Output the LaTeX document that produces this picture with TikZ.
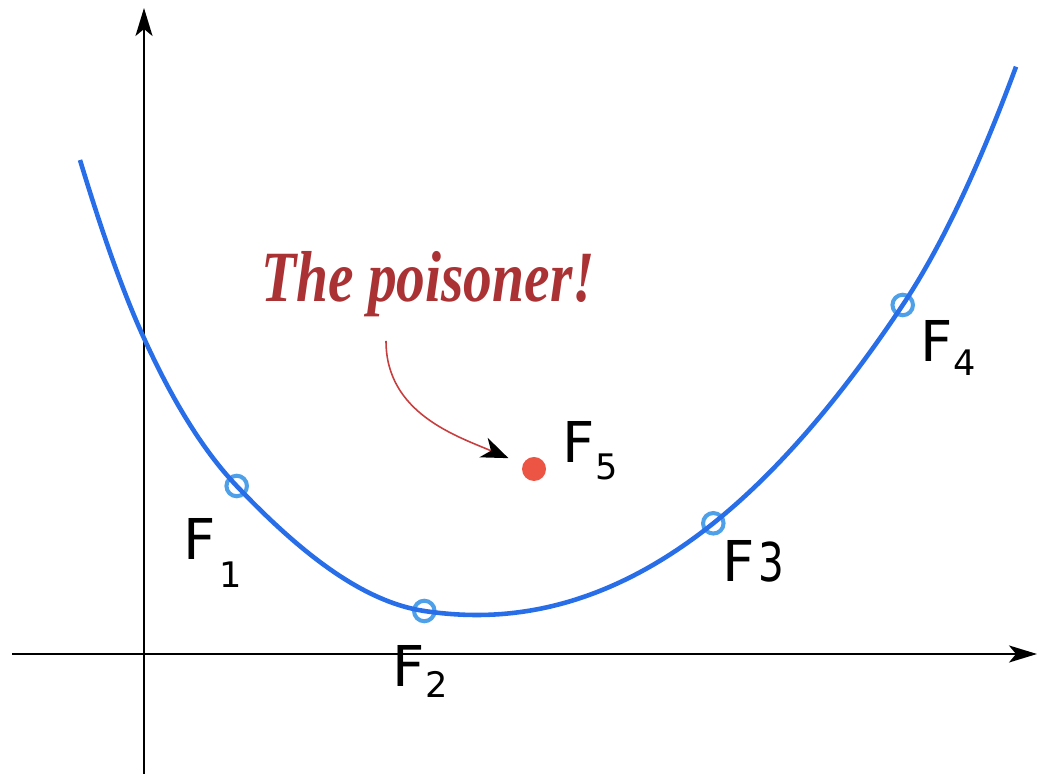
\documentclass[tikz,border=0pt]{standalone}
\usepackage{fontspec}
\usepackage{graphicx}
\setmainfont{DejaVu Sans}
\newfontfamily\poisonfont{Liberation Serif}
\usetikzlibrary{arrows.meta}
\definecolor{curveblue}{RGB}{40,110,232}
\definecolor{ptblue}{RGB}{78,160,232}
\definecolor{poisonred}{RGB}{170,50,52}
\definecolor{dotred}{RGB}{236,84,68}
\definecolor{arrowred}{RGB}{200,62,62}
\newcommand{\lowdigit}[2]{\raisebox{-#1}{\fontsize{10}{12}\selectfont #2}}

\begin{document}
\begin{tikzpicture}[x=0.01cm, y=-0.01cm,
      axis/.style={line width=0.6pt, -{Stealth[length=0.28cm, width=0.17cm, inset=0.07cm]}},
      fitcurve/.style={curveblue, line width=1.3pt},
      sample/.style={circle, draw=ptblue, line width=1.15pt, minimum size=0.205cm, inner sep=0pt},
      flabel/.style={anchor=base west, inner sep=0pt, font=\fontsize{16}{19}\selectfont},
      pointer/.style={arrowred, line width=0.45pt, shorten >=0.15cm,
        -{Stealth[length=0.27cm, width=0.21cm, inset=0.08cm, color=black]}}
    ]
    \useasboundingbox (0,0) rectangle (1037,774);
    \coordinate (xstart) at (12,654);
    \coordinate (xend) at (1037,654);
    \coordinate (ystart) at (144,774);
    \coordinate (yend) at (144,8);
    \draw[axis] (xstart) -- (xend);
    \draw[axis] (ystart) -- (yend);
    \node[sample] (p1) at (236.7,486) {};
    \node[sample] (p2) at (424.3,611) {};
    \node[sample] (p3) at (713.3,523.3) {};
    \node[sample] (p4) at (902.7,305) {};
    \coordinate (cstart) at (80,160);
    \coordinate (ycross) at (143.3,336.7);
    \coordinate (cmin) at (476.7,615);
    \coordinate (cend) at (1016,66.7);
    \draw[fitcurve] (cstart) .. controls (101.1,229.6) and (122.2,290.3) .. (ycross)
      .. controls (174.4,405.2) and (205.6,453.3) .. (p1.center)
      .. controls (299.2,551.7) and (361.8,601.6) .. (p2.center)
      .. controls (441.8,613.6) and (459.2,615) .. (cmin)
      .. controls (555.6,615) and (634.4,586.4) .. (p3.center)
      .. controls (776.4,472.8) and (839.6,399.7) .. (p4.center)
      .. controls (940.5,248.3) and (978.2,168.7) .. (cend);
    \node[circle, fill=dotred, minimum size=0.24cm, inner sep=0pt] (f5dot) at (534,469) {};
    \node[flabel] (l1) at (183,560) {F\kern1pt\lowdigit{7.7pt}{1}};
    \node[flabel] (l2) at (392,687) {F\lowdigit{3.1pt}{2}};
    \node[flabel] (l3) at (722,582) {F\kern1pt\scalebox{0.72}[0.95]{3}};
    \node[flabel] (l4) at (920,362) {F\lowdigit{3.7pt}{4}};
    \node[flabel] (l5) at (562,463) {F\lowdigit{4.8pt}{5}};
    \node[anchor=base, inner sep=0pt, text=poisonred,
      font=\poisonfont\bfseries\itshape\fontsize{19}{22}\selectfont] (poison) at (428,302)
      {\scalebox{0.86}[1.08]{The poisoner!}};
    \coordinate (tail) at (386,341);
    \draw[pointer] (tail) to[out=-90, in=157] (f5dot);
  \end{tikzpicture}
\end{document}
